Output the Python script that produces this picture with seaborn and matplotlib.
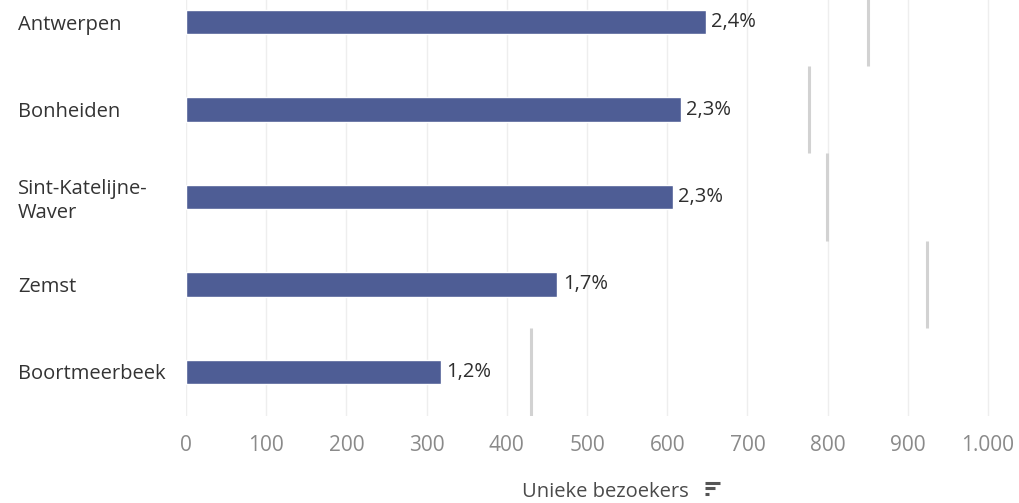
import seaborn as sns
import matplotlib.pyplot as plt
import pandas as pd
from matplotlib.ticker import FuncFormatter
from matplotlib.lines import Line2D

# data
gemeenten = ["Antwerpen", "Bonheiden", "Sint-Katelijne-\nWaver", "Zemst", "Boortmeerbeek"]
bezoekers = [648, 617, 607, 463, 318]
aandeel = [2.4, 2.3, 2.3, 1.7, 1.2]
referentie = [850, 777, 799, 924, 430]

df = pd.DataFrame({"Gemeente": gemeenten, "Unieke bezoekers": bezoekers})

sns.set_theme(style="white")
plt.rcParams["font.family"] = ["Open Sans", "DejaVu Sans"]
fs = 14.5

fig = plt.figure(figsize=(10.2, 5.03), dpi=100)
ax = fig.add_axes([0.1824, 0.1735, 0.8098, 0.8697])

sns.barplot(data=df, x="Unieke bezoekers", y="Gemeente", orient="h",
            color="#4e5d95", saturation=1, width=0.28, ax=ax, zorder=3)

# reference lines, one per row
for i, r in enumerate(referentie):
    ax.vlines(r, i - 0.5, i + 0.5, color="#d2d2d2", linewidth=2.2, zorder=2)

ax.bar_label(ax.containers[0], labels=[f"{v:.1f}%".replace(".", ",") for v in aandeel],
             padding=4, fontsize=fs, color="#2e2e2e")

ax.set_xlim(0, 1030)
ax.set_ylim(4.5, -0.5)
ax.set_xticks(range(0, 1001, 100))
ax.xaxis.set_major_formatter(FuncFormatter(lambda v, p: f"{int(v):,}".replace(",", ".")))
ax.grid(axis="x", color="#eeeeee", linewidth=1, zorder=0)
ax.tick_params(axis="x", length=6, color="#eeeeee", pad=8, labelsize=fs + 0.5, labelcolor="#8a8a8a")
ax.tick_params(axis="y", length=0, pad=121, labelsize=fs, labelcolor="#333333")
for lbl in ax.get_yticklabels():
    lbl.set_horizontalalignment("left")
    lbl.set_linespacing(1.25)
sns.despine(ax=ax, left=True, bottom=True)

ax.set_ylabel("")
ax.set_xlabel("")
fig.text(522 / 1020, 1 - 497 / 503, "Unieke bezoekers", fontsize=fs, color="#4a4a4a",
         ha="left", va="baseline")

# sort icon next to axis title
for k, w in enumerate([15, 10, 4]):
    y = 1 - (482.5 + k * 5.5) / 503
    fig.add_artist(Line2D([705 / 1020, (705 + w) / 1020], [y, y], color="#555555",
                          linewidth=2.2, solid_capstyle="butt"))

fig.savefig("out.png", dpi=100)
